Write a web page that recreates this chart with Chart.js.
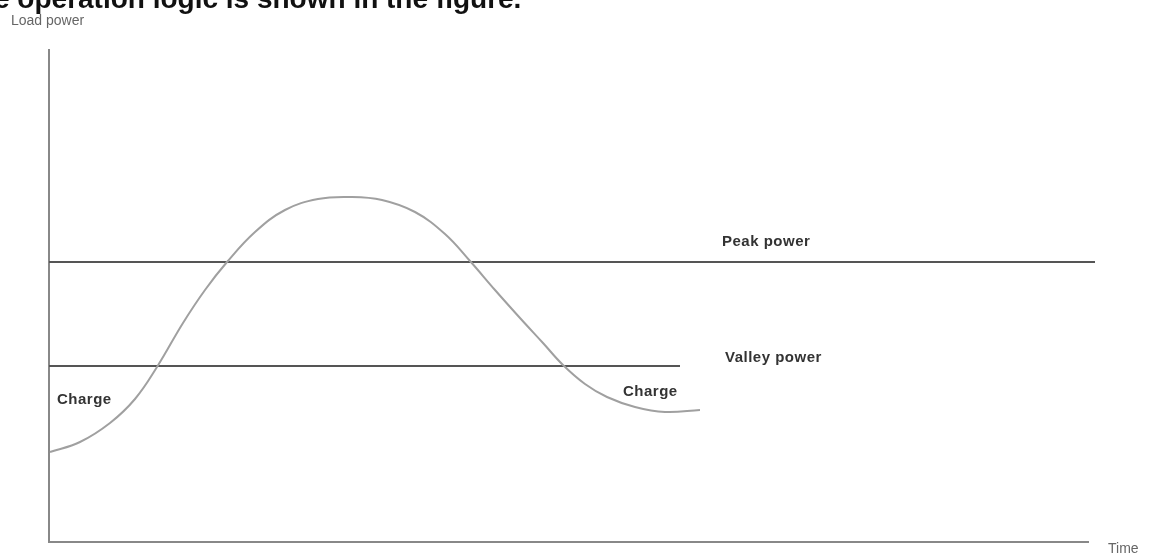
<!DOCTYPE html>
<html>
<head>
<meta charset="utf-8">
<script src="https://cdn.jsdelivr.net/npm/chart.js@4"></script>
<style>
html,body{margin:0;padding:0;background:#fff;}
#wrap{width:1161px;height:553px;position:relative;}
</style>
</head>
<body>
<div id="wrap"><canvas id="c" width="1161" height="553"></canvas></div>
<script>
// Load curve (time, load power)
const timeValues = [1, 31, 61, 86, 108, 134, 156, 178, 206, 236, 269, 301, 333, 366, 396, 421, 446, 471, 494, 514, 536, 558, 586, 616, 651];
const loadValues = [90, 100, 119, 143, 175, 219, 252, 280, 310, 332, 343, 345, 342, 330, 308, 281, 252, 224, 199, 177, 158, 145, 135, 130, 132];
// Threshold lines
const peakPower = 280;
const peakSpan = [0, 1046];
const valleyPower = 176;
const valleySpan = [0, 631];
// Text labels
const titleText = "e operation logic is shown in the figure.";
const yAxisLabel = "Load power";
const xAxisLabel = "Time";
const peakLabel = "Peak power";
const valleyLabel = "Valley power";
const chargeLabel = "Charge";

const curve = timeValues.map((t, i) => ({x: t, y: loadValues[i]}));
const peakLine = peakSpan.map(t => ({x: t, y: peakPower}));
const valleyLine = valleySpan.map(t => ({x: t, y: valleyPower}));

const labelPlugin = {
  id: 'labels',
  afterDraw(chart) {
    const ctx = chart.ctx;
    const xs = chart.scales.x;
    ctx.save();
    ctx.textBaseline = 'alphabetic';
    ctx.textAlign = 'left';
    ctx.fillStyle = '#111';
    ctx.font = 'bold 28px "Liberation Sans", Arial, sans-serif';
    ctx.fillText(titleText, -6, 8);
    ctx.fillStyle = '#666';
    ctx.font = '14px "Liberation Sans", Arial, sans-serif';
    ctx.fillText(yAxisLabel, 11, 25);
    ctx.fillText(xAxisLabel, 1108, 553);
    ctx.fillStyle = '#333';
    ctx.letterSpacing = '0.5px';
    ctx.font = 'bold 15px "Liberation Sans", Arial, sans-serif';
    ctx.fillText(peakLabel, xs.getPixelForValue(673), 246);
    ctx.fillText(valleyLabel, xs.getPixelForValue(676), 362);
    ctx.fillText(chargeLabel, xs.getPixelForValue(8), 404);
    ctx.fillText(chargeLabel, xs.getPixelForValue(574), 396);
    ctx.restore();
  }
};

new Chart(document.getElementById('c'), {
  type: 'line',
  data: {
    datasets: [
      {data: curve, borderColor: '#a0a0a0', borderWidth: 2, pointRadius: 0, tension: 0.4, fill: false, clip: false},
      {data: peakLine, borderColor: '#555', borderWidth: 2, pointRadius: 0, fill: false, clip: false},
      {data: valleyLine, borderColor: '#555', borderWidth: 2, pointRadius: 0, fill: false, clip: false}
    ]
  },
  options: {
    responsive: false,
    animation: false,
    layout: {padding: {left: 49, right: 73, top: 50, bottom: 11}},
    plugins: {legend: {display: false}, tooltip: {enabled: false}, title: {display: false}},
    scales: {
      x: {type: 'linear', min: 0, max: 1039, ticks: {display: false}, grid: {display: false, drawTicks: false}, border: {display: true, color: '#888', width: 2}},
      y: {type: 'linear', min: 0, max: 492, ticks: {display: false}, grid: {display: false, drawTicks: false}, border: {display: true, color: '#888', width: 2}}
    }
  },
  plugins: [labelPlugin]
});
</script>
</body>
</html>
